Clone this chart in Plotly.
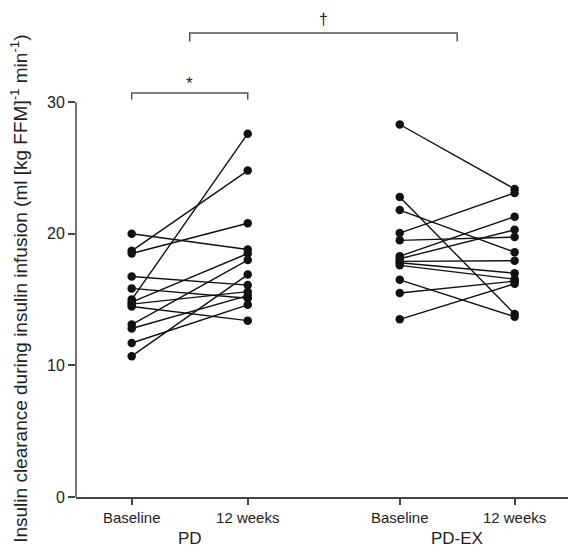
import plotly.graph_objects as go

# Data
categories = ["Baseline", "12 weeks", "Baseline", "12 weeks"]
positions = [1.0, 2.0, 3.31, 4.3]
groups = ["PD", "PD-EX"]

pd_baseline = [20.0, 18.7, 18.5, 16.75, 15.85, 15.0, 14.8, 14.65, 14.47, 13.1, 12.8, 11.7, 10.7]
pd_12w = [18.8, 24.8, 20.8, 16.1, 15.1, 27.6, 18.5, 15.6, 13.4, 18.0, 15.3, 14.6, 16.9]

pdex_baseline = [28.3, 22.8, 21.8, 20.05, 19.5, 18.3, 18.1, 17.9, 17.8, 17.6, 16.5, 15.5, 13.5]
pdex_12w = [23.4, 13.9, 18.6, 23.1, 19.75, 21.3, 20.3, 17.95, 17.0, 16.55, 13.7, 16.4, 16.2]

FONT = "Liberation Sans, Arial, sans-serif"
TXT = "#222222"
AX = "#444444"


def paired(xa, xb, a, b):
    xs, ys = [], []
    for va, vb in zip(a, b):
        xs += [xa, xb, None]
        ys += [va, vb, None]
    return xs, ys


fig = go.Figure()
for (xa, xb, a, b) in [(positions[0], positions[1], pd_baseline, pd_12w),
                       (positions[2], positions[3], pdex_baseline, pdex_12w)]:
    xs, ys = paired(xa, xb, a, b)
    fig.add_trace(go.Scatter(
        x=xs, y=ys, mode="lines+markers",
        line=dict(color="#111111", width=1.4),
        marker=dict(color="#111111", size=8.5),
        showlegend=False, hoverinfo="skip", cliponaxis=False))

# y axis line (only 0..30)
fig.add_shape(type="line", xref="paper", yref="y", x0=0, x1=0, y0=0, y1=30,
              line=dict(color=AX, width=1.5))

# significance brackets
def bracket(x0, x1, ytop, ybot, label, ylab, size):
    fig.add_shape(type="path", xref="x", yref="y",
                  path=f"M {x0},{ybot} L {x0},{ytop} L {x1},{ytop} L {x1},{ybot}",
                  line=dict(color="#555555", width=1.5))
    fig.add_annotation(x=(x0 + x1) / 2, y=ylab, xref="x", yref="y", text=label,
                       showarrow=False, font=dict(family=FONT, size=size, color=TXT))

bracket(positions[0], positions[1], 30.7, 30.2, "*", 31.4, 17)
bracket((positions[0] + positions[1]) / 2, (positions[2] + positions[3]) / 2,
        35.26, 34.6, "†", 36.3, 16)

# group labels
for g, (p0, p1) in zip(groups, [(positions[0], positions[1]), (positions[2], positions[3])]):
    fig.add_annotation(x=(p0 + p1) / 2, y=0, xref="x", yref="paper", yshift=-41,
                       text=g, showarrow=False, yanchor="middle",
                       font=dict(family=FONT, size=17, color=TXT))

# y title
fig.add_annotation(xref="paper", yref="paper", x=0, y=0.4275, xshift=-57,
                   text="Insulin clearance during insulin infusion (ml [kg FFM]<sup>-1</sup> min<sup>-1</sup>)",
                   textangle=-90, showarrow=False, xanchor="center", yanchor="middle",
                   font=dict(family=FONT, size=19, color=TXT))

fig.update_layout(
    width=568, height=551,
    margin=dict(l=76, r=0, t=10, b=54),
    paper_bgcolor="white", plot_bgcolor="white",
    font=dict(family=FONT, color=TXT),
    xaxis=dict(range=[0.52, 4.76], tickvals=positions, ticktext=categories,
               showgrid=False, zeroline=False, showline=True, linecolor=AX, linewidth=1.5,
               ticks="outside", ticklen=6, tickcolor=AX, tickwidth=1.5,
               tickfont=dict(family=FONT, size=15, color=TXT)),
    yaxis=dict(range=[0, 37.0], tickvals=[0, 10, 20, 30],
               showgrid=False, zeroline=False, showline=False,
               ticks="outside", ticklen=7, tickcolor=AX, tickwidth=1.5,
               tickfont=dict(family=FONT, size=16, color=TXT)),
)

fig.write_html("out.html", config={"displayModeBar": False},
               post_script="document.body.style.margin='0';")
